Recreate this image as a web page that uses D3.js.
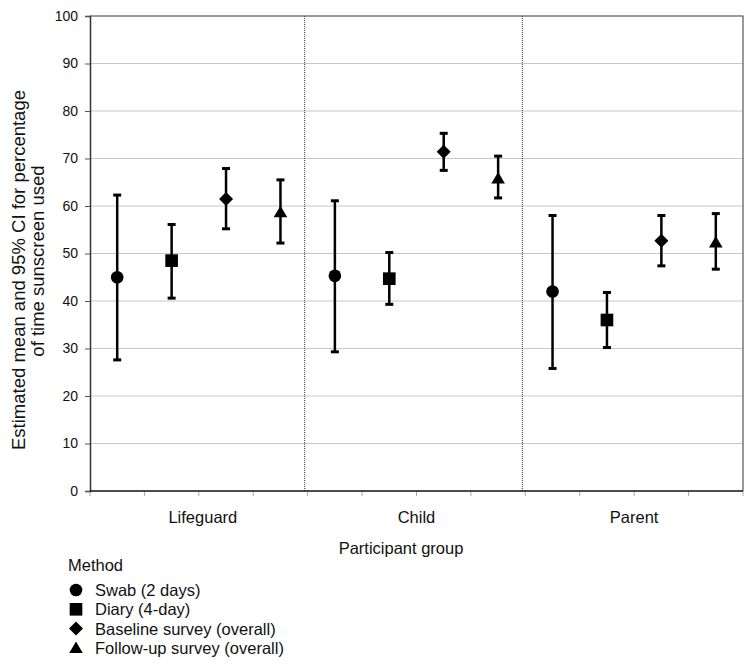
<!DOCTYPE html>
<html><head><meta charset="utf-8">
<script src="https://cdn.jsdelivr.net/npm/d3@7"></script>
<style>body{margin:0;background:#fff}svg{font-family:"Liberation Sans",Arial,sans-serif}</style>
</head><body><svg id="c" width="755" height="666"></svg>
<script>
const groups = ["Lifeguard", "Child", "Parent"];
const methods = ["Swab (2 days)", "Diary (4-day)", "Baseline survey (overall)", "Follow-up survey (overall)"];
const symbols = ["circle", "square", "diamond", "triangle"];
// means, lower CI, upper CI per method (rows) by group (cols)
const means = [[45.0, 45.3, 42.0],[48.5, 44.7, 36.0],[61.5, 71.4, 52.7],[58.7, 65.8, 52.3]];
const lows  = [[27.6, 29.3, 25.8],[40.6, 39.3, 30.2],[55.2, 67.5, 47.4],[52.2, 61.7, 46.7]];
const highs = [[62.3, 61.1, 58.0],[56.1, 50.2, 41.8],[67.9, 75.3, 58.0],[65.5, 70.5, 58.4]];
const yTicks = [0,10,20,30,40,50,60,70,80,90,100];

const svg = d3.select("#c");
const L=90, R=743, T=16, B=491;
const x0 = d3.scaleBand().domain(groups).range([L,R]).paddingInner(0).paddingOuter(0);
const x1 = d3.scaleBand().domain(methods).range([0,x0.bandwidth()]);
const y = d3.scaleLinear().domain([0,100]).range([B,T]);

// gridlines
svg.append("g").selectAll("line").data(yTicks.filter(d=>d>0)).join("line")
  .attr("x1",L).attr("x2",R).attr("y1",d=>y(d)).attr("y2",d=>y(d))
  .attr("stroke","#c8c8c8").attr("stroke-width",1);

// plot border top/right
svg.append("path").attr("d",`M${L},${T}H${R}V${B}`).attr("fill","none").attr("stroke","#555").attr("stroke-width",1.2);

// x minor ticks
const slotEdges = [];
groups.forEach(g=>methods.forEach(m=>slotEdges.push(x0(g)+x1(m))));
slotEdges.push(R);
svg.append("g").selectAll("line").data(slotEdges).join("line")
  .attr("x1",d=>d).attr("x2",d=>d).attr("y1",B).attr("y2",B+5)
  .attr("stroke","#aaa").attr("stroke-width",1);

// dividers
svg.append("g").selectAll("line").data(groups.slice(1)).join("line")
  .attr("x1",g=>x0(g)-3).attr("x2",g=>x0(g)-3).attr("y1",T).attr("y2",B)
  .attr("stroke","#333").attr("stroke-width",1).attr("stroke-dasharray","1,1");

// y axis
const ya = svg.append("g").attr("transform",`translate(${L},0)`)
  .call(d3.axisLeft(y).tickValues(yTicks).tickSize(5).tickPadding(7));
ya.select(".domain").attr("stroke","#333").attr("stroke-width",1.5);
ya.selectAll(".tick line").attr("stroke","#555");
ya.selectAll("text").attr("font-size",14).attr("fill","#111").attr("font-family","Liberation Sans, Arial, sans-serif");

// x axis baseline
svg.append("line").attr("x1",L).attr("x2",R).attr("y1",B).attr("y2",B).attr("stroke","#111").attr("stroke-width",1.5);

// group labels
svg.append("g").selectAll("text").data(groups).join("text")
  .attr("x",g=>x0(g)+x0.bandwidth()/2+ (g==="Lifeguard"?4:0)).attr("y",523)
  .attr("text-anchor","middle").attr("font-size",16.5).attr("fill","#111").text(g=>g);

svg.append("text").attr("x",401).attr("y",554).attr("text-anchor","middle")
  .attr("font-size",16.5).attr("fill","#111").text("Participant group");

// y title
const yt = svg.append("text").attr("transform","rotate(-90)").attr("text-anchor","middle")
  .attr("font-size",18.5).attr("fill","#111");
yt.append("tspan").attr("x",-270).attr("y",25).text("Estimated mean and 95% CI for percentage");
yt.append("tspan").attr("x",-261).attr("y",44).text("of time sunscreen used");

// symbol paths
function sym(type){
  if(type==="circle") return d3.symbol().type(d3.symbolCircle).size(125)();
  if(type==="square") return d3.symbol().type(d3.symbolSquare).size(160)();
  if(type==="diamond") return "M0,-7L7,0L0,7L-7,0Z";
  return "M0,-6.5L6.8,5L-6.8,5Z";
}

// error bars + markers
const pts = [];
methods.forEach((m,i)=>groups.forEach((g,j)=>pts.push({m,i,g,mean:means[i][j],lo:lows[i][j],hi:highs[i][j]})));
const gp = svg.append("g");
pts.forEach(p=>{
  const cx = x0(p.g)+x1(p.m)+x1.bandwidth()/2;
  gp.append("line").attr("x1",cx).attr("x2",cx).attr("y1",y(p.lo)).attr("y2",y(p.hi)).attr("stroke","#000").attr("stroke-width",2.5);
  [p.lo,p.hi].forEach(v=>gp.append("line").attr("x1",cx-4).attr("x2",cx+4).attr("y1",y(v)).attr("y2",y(v)).attr("stroke","#000").attr("stroke-width",3));
  gp.append("path").attr("d",sym(symbols[p.i]))
    .attr("transform",`translate(${cx},${y(p.mean)})`).attr("fill","#000");
});

// legend
svg.append("text").attr("x",68).attr("y",571).attr("font-size",16.5).attr("fill","#111").text("Method");
methods.forEach((m,i)=>{
  const yy = 590 + i*19.3;
  svg.append("path").attr("d",sym(symbols[i])).attr("transform",`translate(76,${yy})`).attr("fill","#000");
  svg.append("text").attr("x",95).attr("y",yy+6).attr("font-size",16.5).attr("fill","#111").text(m);
});
</script></body></html>
